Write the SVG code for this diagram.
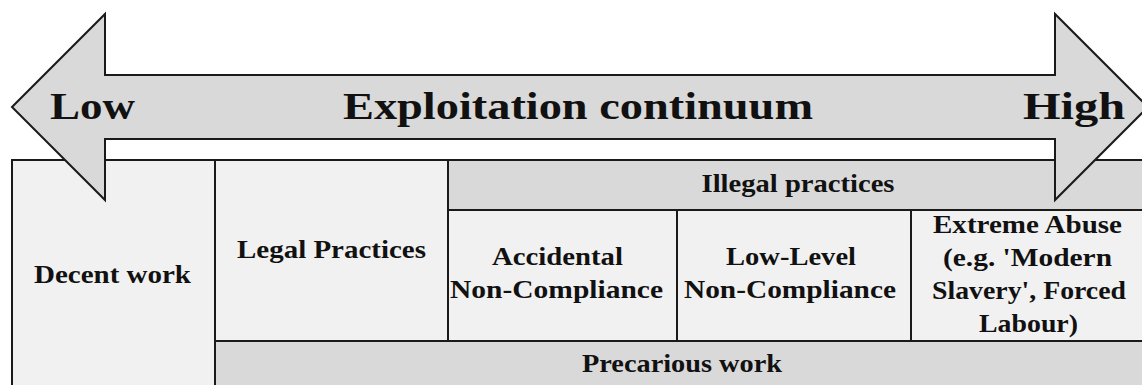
<svg xmlns="http://www.w3.org/2000/svg" width="1142" height="385" viewBox="0 0 1142 385">
  <style>
    .cell { stroke: #1a1a1a; stroke-width: 2; }
    .light { fill: #f1f1f1; }
    .dark { fill: #d9d9d9; }
    text { font-family: 'Liberation Serif', 'Times New Roman', Times, serif; fill: #111; }
    .lbl { font-weight: bold; font-size: 25px; text-anchor: middle; }
    .big { font-weight: bold; font-size: 37px; }
  </style>
  <rect width="1142" height="385" fill="#ffffff"/>

  <!-- table of work categories -->
  <g id="decent-work">
    <rect class="cell light" x="12" y="160" width="203" height="240"/>
    <text class="lbl" x="112.5" y="283" textLength="157" lengthAdjust="spacingAndGlyphs">Decent work</text>
  </g>
  <g id="legal-practices">
    <rect class="cell light" x="215" y="160" width="233" height="181"/>
    <text class="lbl" x="331.5" y="258" textLength="189" lengthAdjust="spacingAndGlyphs">Legal Practices</text>
  </g>
  <g id="illegal-practices">
    <rect class="cell dark" x="448" y="160" width="710" height="50"/>
    <text class="lbl" x="798" y="192" textLength="193" lengthAdjust="spacingAndGlyphs">Illegal practices</text>
  </g>
  <g id="accidental-non-compliance">
    <rect class="cell light" x="448" y="210" width="229" height="131"/>
    <text class="lbl" x="557.5" y="265" textLength="131" lengthAdjust="spacingAndGlyphs">Accidental</text>
    <text class="lbl" x="556.5" y="298" textLength="213" lengthAdjust="spacingAndGlyphs">Non-Compliance</text>
  </g>
  <g id="low-level-non-compliance">
    <rect class="cell light" x="677" y="210" width="234" height="131"/>
    <text class="lbl" x="791" y="265" textLength="130" lengthAdjust="spacingAndGlyphs">Low-Level</text>
    <text class="lbl" x="790" y="298" textLength="212" lengthAdjust="spacingAndGlyphs">Non-Compliance</text>
  </g>
  <g id="extreme-abuse">
    <rect class="cell light" x="911" y="210" width="247" height="131"/>
    <text class="lbl" x="1027.5" y="233" textLength="189" lengthAdjust="spacingAndGlyphs">Extreme Abuse</text>
    <text class="lbl" x="1027.5" y="266" textLength="169" lengthAdjust="spacingAndGlyphs">(e.g. 'Modern</text>
    <text class="lbl" x="1029" y="299" textLength="194" lengthAdjust="spacingAndGlyphs">Slavery', Forced</text>
    <text class="lbl" x="1028.5" y="332" textLength="99" lengthAdjust="spacingAndGlyphs">Labour)</text>
  </g>
  <g id="precarious-work">
    <rect class="cell dark" x="215" y="341" width="943" height="60"/>
    <text class="lbl" x="682" y="372" textLength="200" lengthAdjust="spacingAndGlyphs">Precarious work</text>
  </g>

  <!-- double-headed continuum arrow drawn over the table -->
  <g id="continuum-arrow">
    <path d="M12,107 L105,14 L105,75 L1055,75 L1055,14 L1148,107 L1055,200 L1055,139 L105,139 L105,200 Z" fill="#d9d9d9" stroke="#1a1a1a" stroke-width="2" stroke-linejoin="miter"/>
    <text class="big" x="50" y="119" textLength="85" lengthAdjust="spacingAndGlyphs">Low</text>
    <text class="big" x="578" y="119" text-anchor="middle" textLength="470" lengthAdjust="spacingAndGlyphs">Exploitation continuum</text>
    <text class="big" x="1023" y="119" textLength="102" lengthAdjust="spacingAndGlyphs">High</text>
  </g>
</svg>
